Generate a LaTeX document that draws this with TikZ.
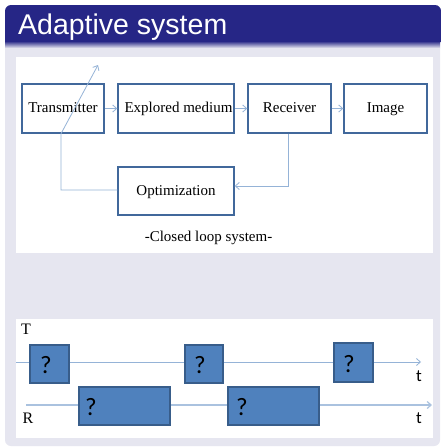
\documentclass[tikz,border=0pt]{standalone}
\usepackage{fontspec}
\setmainfont{Liberation Serif}
\newfontfamily\titlefont{Liberation Sans}
\newfontfamily\calfont{Carlito}
\usetikzlibrary{arrows.meta}
\definecolor{titleblue}{RGB}{38,38,134}
\definecolor{lavender}{RGB}{230,230,240}
\definecolor{boxedge}{RGB}{65,104,155}
\definecolor{arrowblue}{RGB}{149,179,215}
\definecolor{qfill}{RGB}{79,129,189}
\definecolor{qedge}{RGB}{56,93,138}
\tikzset{
  flowbox/.style={draw=boxedge, line width=1.4pt, fill=white, inner sep=0pt,
    font=\fontsize{15}{17}\selectfont, text=black, text height=11pt, text depth=3pt},
  conn/.style={draw=arrowblue, line width=0.8pt},
  arr/.style={conn, -{Straight Barb[length=4pt,width=7pt]}},
  qbox/.style={draw=qedge, line width=1.4pt, fill=qfill},
  qmark/.style={font=\calfont\fontsize{25}{28}\selectfont, text=black, inner sep=0pt, anchor=west},
  axlabel/.style={font=\fontsize{16}{18}\selectfont, text=black, inner sep=0pt},
  tlabel/.style={font=\calfont\fontsize{17}{19}\selectfont, text=black, inner sep=0pt}
}
\begin{document}
\begin{tikzpicture}[x=1pt,y=-1pt]
\useasboundingbox (0,0) rectangle (440,447);
\fill[white] (0,0) rectangle (440,447);
% body
\fill[lavender] (5,40) -- (5,440) arc[start angle=180,end angle=270,radius=6pt] -- (434,446) arc[start angle=270,end angle=360,radius=6pt] -- (440,40) -- cycle;
% title bar
\fill[titleblue] (5,42) -- (5,11) arc[start angle=180,end angle=90,radius=6pt] -- (435,5) arc[start angle=90,end angle=0,radius=6pt] -- (441,42) -- cycle;
\shade[top color=titleblue, bottom color=lavender] (5,41) rectangle (440,48);
\node[anchor=base west, inner sep=0pt, text=white, font=\titlefont\fontsize{28.5}{31}\selectfont] (title) at (18,34.5) {Adaptive system};
% white panels
\fill[white] (16,57) rectangle (433,253);
\fill[white] (16,319) rectangle (433,438);
% flow diagram
\node[flowbox, minimum width=82pt, minimum height=49pt] (tra) at (63,108.5) {Transmitter};
\node[flowbox, minimum width=116pt, minimum height=49pt] (med) at (176,108.5) {\hspace{5pt}Explored medium};
\node[flowbox, minimum width=83pt, minimum height=49pt] (rec) at (289.5,108.5) {Receiver};
\node[flowbox, minimum width=83pt, minimum height=49pt] (img) at (385.5,108.5) {Image\hspace{7pt}};
\node[flowbox, minimum width=116pt, minimum height=48pt] (opt) at (176,191) {Optimization};
\draw[arr] (tra) -- (med);
\draw[arr] (med) -- (rec);
\draw[arr] (rec) -- (img);
\draw[arr] ([xshift=-1.5pt]rec.south) |- ([yshift=5pt]opt.east);
\coordinate (tip) at (98,65);
\draw[arr] ([yshift=1pt]opt.west) -| ([xshift=-2pt]tra.south) -- (tip);
\node[font=\fontsize{15}{17}\selectfont, inner sep=0pt] (cap) at (208.5,238) {-Closed loop system-};
% timing diagram
\node[axlabel] (T) at (26,329) {T};
\node[axlabel] (R) at (28,418) {R};
\coordinate (ts) at (16,362);
\coordinate (te) at (421,362);
\coordinate (rs) at (26,405);
\coordinate (re) at (432,405);
\draw[arr] (ts) -- (te);
\draw[arr, line width=1.2pt, draw=arrowblue!80] (rs) -- (re);
\node[tlabel] (t1) at (419,376) {t};
\node[tlabel] (t2) at (419,418) {t};
\draw[qbox] (30,345) rectangle (69,383);
\node[qmark] (q1) at (40,365) {?};
\draw[qbox] (185,345) rectangle (223,383);
\node[qmark] (q2) at (194,365) {?};
\draw[qbox] (334,343) rectangle (373,382);
\node[qmark] (q3) at (343,364) {?};
\draw[qbox] (79,387) rectangle (170,425);
\node[qmark] (q4) at (85,407) {?};
\draw[qbox] (228,387) rectangle (319,425);
\node[qmark] (q5) at (236,407) {?};
\end{tikzpicture}
\end{document}
